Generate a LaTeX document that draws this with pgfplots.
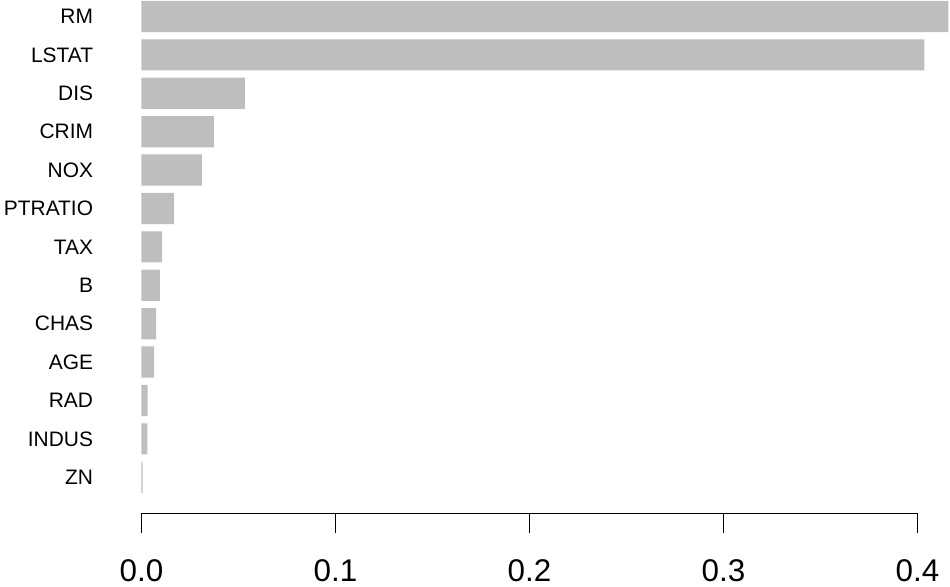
\documentclass[border=0pt]{standalone}
\usepackage{pgfplots}
\pgfplotsset{compat=1.18}
\usepackage{fontspec}
\setmainfont{Liberation Sans}
\definecolor{rgray}{HTML}{BEBEBE}

\begin{document}
\begin{tikzpicture}
\begin{axis}[
    x=970bp, y=19.2bp,
    xmin=0, xmax=0.4,
    ymin=-0.94, ymax=12.42,
    clip=false,
    axis x line*=bottom,
    axis y line*=left,
    y axis line style={draw=none},
    x axis line style={-, line width=0.7bp},
    xtick={0,0.1,0.2,0.3,0.4},
    xticklabels={0.0,0.1,0.2,0.3,0.4},
    tick align=outside,
    major tick length=10bp,
    xtick style={line width=0.7bp, black},
    ytick style={draw=none},
    xticklabel style={font=\fontsize{15.75}{18}\selectfont, yshift=-9.5bp},
    ytick={0,...,12},
    yticklabels={ZN,INDUS,RAD,AGE,CHAS,B,TAX,PTRATIO,NOX,CRIM,DIS,LSTAT,RM},
    yticklabel style={font=\fontsize{10.5}{12}\selectfont, inner sep=0pt, xshift=-14bp},
    xbar, bar width=15.6bp,
]
\addplot[draw=none, fill=rgray] coordinates {
    (0.0006,0) (0.0031,1) (0.0032,2) (0.0066,3) (0.0076,4) (0.0095,5)
    (0.0107,6) (0.0169,7) (0.0311,8) (0.0373,9) (0.0533,10) (0.4036,11) (0.416,12)
};
\coordinate (bl) at (axis cs:-0.0729,-2.839);
\coordinate (tr) at (axis cs:0.4168,12.43);
\end{axis}
\pgfresetboundingbox
\path[use as bounding box] (bl) rectangle (tr);
\end{tikzpicture}
\end{document}
